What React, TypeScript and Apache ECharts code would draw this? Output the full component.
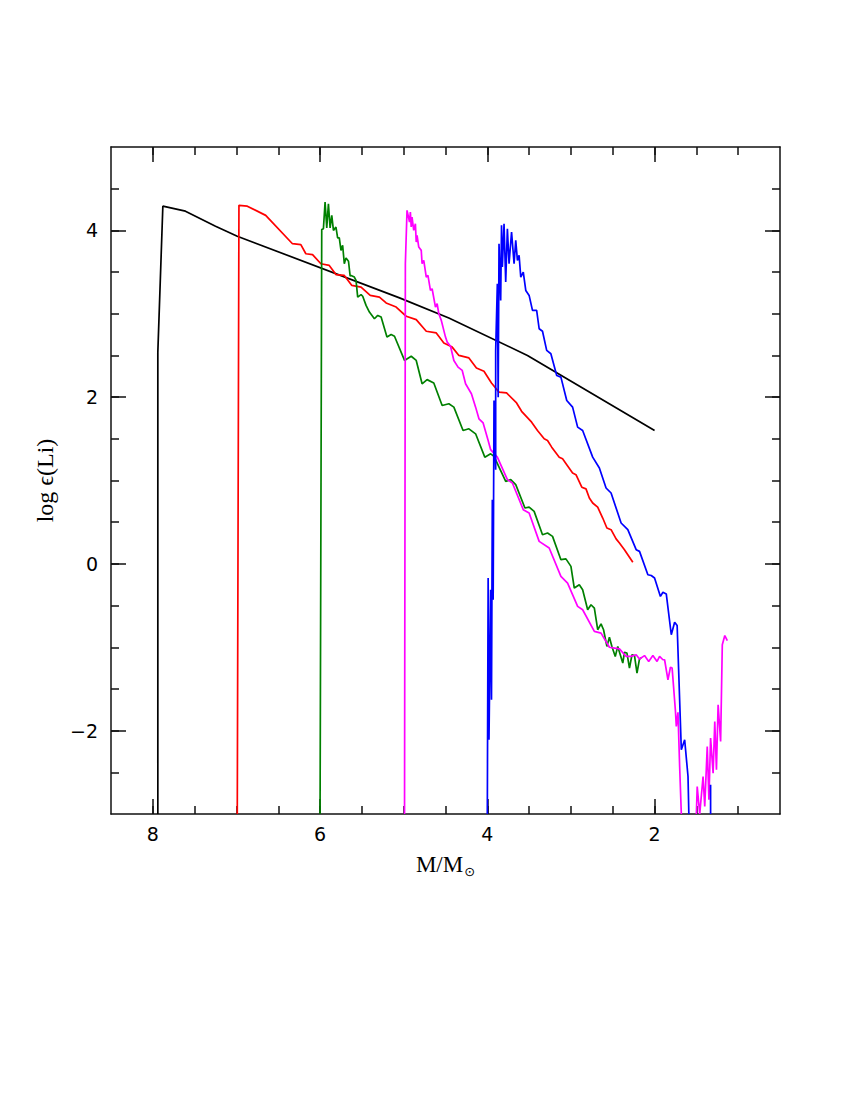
import React, { useEffect, useRef } from "react";
import * as echarts from "echarts";

const xMajor = [2, 4, 6, 8];
const xMinor = [1, 1.5, 2, 2.5, 3, 3.5, 4, 4.5, 5, 5.5, 6, 6.5, 7, 7.5, 8];
const yMajor = [-2, 0, 2, 4];
const yMinor = [-2.5, -2, -1.5, -1, -0.5, 0, 0.5, 1, 1.5, 2, 2.5, 3, 3.5, 4, 4.5];

const black = [[7.94,-3],[7.94,2.54],[7.88,4.29],[7.61,4.23],[7.25,4.05],[6.99,3.93],[5.05,3.19],[4.46,2.95],[3.52,2.50],[2.00,1.60]];

const red = [[6.99,-3],[6.97,4.30],[6.87,4.29],[6.65,4.18],[6.33,3.84],[6.23,3.83],[6.17,3.72],[6.09,3.71],[5.99,3.60],[5.89,3.58],[5.81,3.47],[5.71,3.46],[5.62,3.34],[5.51,3.32],[5.40,3.22],[5.29,3.20],[5.21,3.13],[5.09,3.08],[4.97,2.97],[4.85,2.93],[4.73,2.79],[4.61,2.77],[4.52,2.65],[4.42,2.60],[4.34,2.50],[4.22,2.47],[4.13,2.35],[4.04,2.31],[3.95,2.17],[3.86,2.06],[3.77,2.05],[3.65,1.93],[3.59,1.83],[3.47,1.70],[3.40,1.60],[3.32,1.50],[3.28,1.48],[3.23,1.40],[3.14,1.28],[3.10,1.26],[3.05,1.19],[2.98,1.09],[2.94,1.07],[2.87,0.92],[2.82,0.90],[2.78,0.79],[2.74,0.73],[2.68,0.68],[2.62,0.55],[2.57,0.43],[2.52,0.41],[2.46,0.30],[2.42,0.25],[2.36,0.17],[2.26,0.02]];

const green = [[6.00,-3],[5.98,4.01],[5.96,4.02],[5.94,4.34],[5.92,4.03],[5.90,4.32],[5.88,4.03],[5.86,4.18],[5.84,4.00],[5.81,4.04],[5.79,3.91],[5.77,3.91],[5.75,3.76],[5.73,3.82],[5.71,3.60],[5.69,3.67],[5.66,3.63],[5.64,3.45],[5.63,3.46],[5.59,3.44],[5.57,3.40],[5.55,3.20],[5.51,3.23],[5.49,3.21],[5.45,3.10],[5.41,3.02],[5.35,2.94],[5.31,2.98],[5.27,2.96],[5.20,2.72],[5.15,2.75],[5.11,2.73],[4.99,2.44],[4.91,2.49],[4.85,2.44],[4.78,2.16],[4.72,2.21],[4.64,2.17],[4.54,1.90],[4.46,1.92],[4.40,1.88],[4.29,1.60],[4.22,1.62],[4.14,1.56],[4.03,1.28],[3.96,1.32],[3.92,1.29],[3.78,0.99],[3.72,1.01],[3.66,0.95],[3.55,0.67],[3.50,0.68],[3.44,0.63],[3.34,0.35],[3.28,0.37],[3.22,0.33],[3.12,0.05],[3.06,0.06],[3.00,-0.03],[2.96,-0.29],[2.90,-0.25],[2.86,-0.31],[2.80,-0.55],[2.76,-0.49],[2.72,-0.53],[2.68,-0.79],[2.64,-0.72],[2.61,-0.79],[2.57,-0.99],[2.54,-0.88],[2.51,-0.99],[2.47,-1.11],[2.44,-0.99],[2.41,-1.09],[2.38,-1.19],[2.36,-1.06],[2.33,-1.07],[2.30,-1.25],[2.27,-1.09],[2.24,-1.10],[2.21,-1.31],[2.18,-1.14],[2.16,-1.13]];

const magenta = [[4.99,-3],[4.98,3.60],[4.96,4.24],[4.93,4.10],[4.92,4.22],[4.91,4.04],[4.90,4.16],[4.88,4.00],[4.86,4.08],[4.85,3.86],[4.84,3.94],[4.82,3.80],[4.79,3.76],[4.78,3.60],[4.76,3.64],[4.73,3.44],[4.71,3.46],[4.68,3.28],[4.66,3.30],[4.62,3.08],[4.60,3.12],[4.58,3.00],[4.55,2.92],[4.53,2.84],[4.50,2.72],[4.48,2.66],[4.44,2.61],[4.40,2.44],[4.35,2.36],[4.30,2.32],[4.26,2.16],[4.19,2.04],[4.14,1.88],[4.10,1.74],[4.05,1.69],[3.99,1.48],[3.96,1.37],[3.88,1.28],[3.76,1.01],[3.70,0.97],[3.57,0.65],[3.50,0.61],[3.38,0.27],[3.26,0.19],[3.12,-0.15],[3.04,-0.23],[2.92,-0.51],[2.86,-0.55],[2.72,-0.81],[2.64,-0.83],[2.54,-1.00],[2.48,-1.01],[2.42,-1.02],[2.34,-1.11],[2.28,-1.11],[2.22,-1.09],[2.18,-1.14],[2.12,-1.10],[2.07,-1.17],[2.02,-1.10],[1.97,-1.17],[1.94,-1.11],[1.90,-1.15],[1.88,-1.15],[1.84,-1.39],[1.81,-1.24],[1.79,-1.25],[1.77,-1.51],[1.75,-1.77],[1.74,-1.95],[1.72,-1.78],[1.70,-2.43],[1.68,-3]];

const magentaTail = [[1.50,-3],[1.49,-2.67],[1.46,-3],[1.42,-2.55],[1.40,-2.91],[1.37,-2.19],[1.35,-2.83],[1.33,-2.09],[1.30,-2.51],[1.28,-1.89],[1.26,-2.47],[1.24,-1.69],[1.21,-2.13],[1.19,-0.97],[1.16,-0.86],[1.13,-0.92]];

const blue = [[4.00,-3],[3.99,-0.17],[3.98,-2.11],[3.96,-0.31],[3.95,-1.63],[3.94,0.77],[3.93,-0.43],[3.92,1.96],[3.90,1.13],[3.90,2.56],[3.88,3.36],[3.87,2.00],[3.86,3.84],[3.84,3.16],[3.83,4.06],[3.82,3.56],[3.80,4.08],[3.78,3.38],[3.76,4.02],[3.74,3.60],[3.71,3.98],[3.68,3.60],[3.66,3.88],[3.64,3.64],[3.62,3.70],[3.60,3.44],[3.57,3.50],[3.54,3.28],[3.50,3.22],[3.46,3.04],[3.41,3.04],[3.38,2.82],[3.34,2.79],[3.29,2.56],[3.24,2.52],[3.17,2.26],[3.12,2.24],[3.05,1.96],[2.98,1.88],[2.92,1.64],[2.86,1.60],[2.74,1.28],[2.66,1.15],[2.58,0.91],[2.52,0.85],[2.40,0.49],[2.32,0.41],[2.22,0.17],[2.18,0.15],[2.08,-0.13],[2.04,-0.14],[2.00,-0.17],[1.93,-0.39],[1.90,-0.34],[1.86,-0.36],[1.80,-0.85],[1.76,-0.70],[1.73,-0.74],[1.68,-2.23],[1.64,-2.11],[1.60,-2.55],[1.59,-3]];

const blueTail = [[1.33,-2.65],[1.33,-3]];

const AXIS_COLOR = "#111";
const LABEL_FONT = "DejaVu Sans";
const TITLE_FONT = "Liberation Serif";

function fmtNum(v: number) {
  return v < 0 ? "\u2212" + Math.abs(v) : String(v);
}

export default function App() {
  const ref = useRef<HTMLDivElement>(null);
  useEffect(() => {
    if (!ref.current) return;
    const chart = echarts.init(ref.current, null, { renderer: "svg" });
    const lineStyle = { color: AXIS_COLOR, width: 1.5 };
    const xBase = { type: "value", min: 0.5, max: 8.5, inverse: true, splitLine: { show: false } };
    const yBase = { type: "value", min: -3, max: 5, splitLine: { show: false } };
    const mk = (name: string, color: string, data: number[][]) => ({
      name,
      type: "line",
      data,
      showSymbol: false,
      symbol: "none",
      clip: true,
      lineStyle: { color, width: 1.7 },
      itemStyle: { color },
    });
    chart.setOption({
      animation: false,
      grid: { left: 111, right: 70, top: 147, bottom: 286, containLabel: false },
      xAxis: [
        {
          ...xBase,
          position: "bottom",
          axisLine: { show: true, onZero: false, lineStyle },
          axisTick: { show: true, inside: true, length: 8, customValues: xMinor, lineStyle },
          axisLabel: {
            show: true,
            customValues: xMajor,
            formatter: (v: number) => fmtNum(v),
            fontFamily: LABEL_FONT,
            fontSize: 19,
            color: "#000",
            margin: 10,
          },
          name: "{a|M/M}{b|\u2299}",
          nameLocation: "middle",
          nameGap: 37,
          nameTextStyle: {
            fontFamily: TITLE_FONT,
            fontSize: 23,
            color: "#000",
            rich: {
              a: { fontFamily: TITLE_FONT, fontSize: 23, color: "#000" },
              b: { fontFamily: "DejaVu Sans", fontSize: 13, color: "#000", padding: [14, 0, 0, 1] },
            },
          },
        },
        {
          ...xBase,
          position: "bottom",
          axisLine: { show: false, onZero: false },
          axisTick: { show: true, inside: true, length: 15, customValues: xMajor, lineStyle },
          axisLabel: { show: false },
        },
        {
          ...xBase,
          position: "top",
          axisLine: { show: true, onZero: false, lineStyle },
          axisTick: { show: true, inside: true, length: 8, customValues: xMinor, lineStyle },
          axisLabel: { show: false },
        },
        {
          ...xBase,
          position: "top",
          axisLine: { show: false, onZero: false },
          axisTick: { show: true, inside: true, length: 15, customValues: xMajor, lineStyle },
          axisLabel: { show: false },
        },
      ],
      yAxis: [
        {
          ...yBase,
          position: "left",
          axisLine: { show: true, onZero: false, lineStyle },
          axisTick: { show: true, inside: true, length: 8, customValues: yMinor, lineStyle },
          axisLabel: {
            show: true,
            customValues: yMajor,
            formatter: (v: number) => fmtNum(v),
            fontFamily: LABEL_FONT,
            fontSize: 19,
            color: "#000",
            margin: 13,
          },
          name: "log \u03F5(Li)",
          nameLocation: "middle",
          nameRotate: 90,
          nameGap: 54,
          nameTextStyle: { fontFamily: TITLE_FONT, fontSize: 24, color: "#000" },
        },
        {
          ...yBase,
          position: "left",
          axisLine: { show: false, onZero: false },
          axisTick: { show: true, inside: true, length: 15, customValues: yMajor, lineStyle },
          axisLabel: { show: false },
        },
        {
          ...yBase,
          position: "right",
          axisLine: { show: true, onZero: false, lineStyle },
          axisTick: { show: true, inside: true, length: 8, customValues: yMinor, lineStyle },
          axisLabel: { show: false },
        },
        {
          ...yBase,
          position: "right",
          axisLine: { show: false, onZero: false },
          axisTick: { show: true, inside: true, length: 15, customValues: yMajor, lineStyle },
          axisLabel: { show: false },
        },
      ],
      series: [
        mk("black", "#000000", black),
        mk("red", "#ff0000", red),
        mk("green", "#008000", green),
        mk("magenta", "#ff00ff", magenta),
        mk("magentaTail", "#ff00ff", magentaTail),
        mk("blue", "#0000ff", blue),
        mk("blueTail", "#0000ff", blueTail),
      ],
    });
    return () => chart.dispose();
  }, []);
  return (
    <div
      ref={ref}
      style={{ position: "absolute", left: 0, top: 0, width: 850, height: 1100, background: "#fff" }}
    />
  );
}
